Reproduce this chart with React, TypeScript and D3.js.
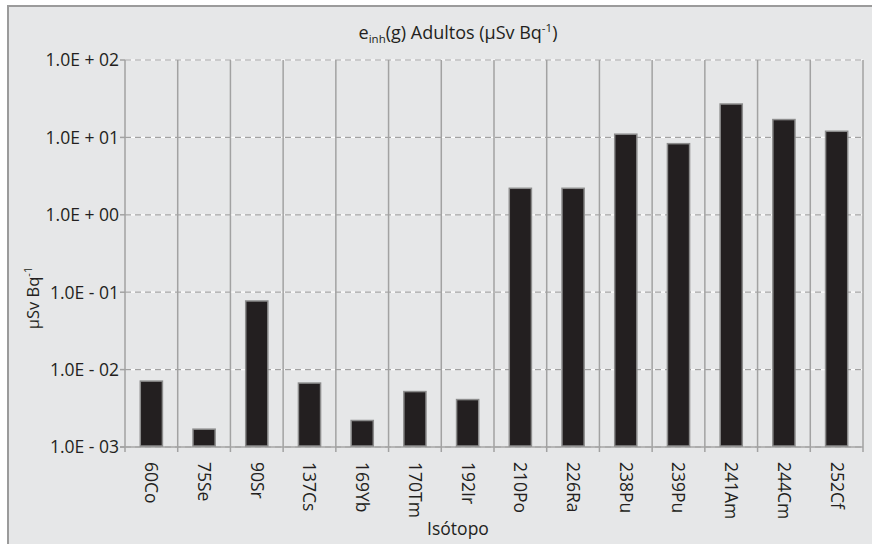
import React from "react";
import * as d3 from "d3";

// Inhalation dose coefficients, adults (µSv per Bq)
const isotopes = ["60Co", "75Se", "90Sr", "137Cs", "169Yb", "170Tm", "192Ir", "210Po", "226Ra", "238Pu", "239Pu", "241Am", "244Cm", "252Cf"];
const doseValues = [7.1e-3, 1.7e-3, 7.7e-2, 6.7e-3, 2.2e-3, 5.2e-3, 4.1e-3, 2.2, 2.2, 11, 8.3, 27, 17, 12];
const yTicks = [1e-3, 1e-2, 1e-1, 1e0, 1e1, 1e2];

const W = 872;
const H = 544;
const plot = { left: 125, right: 863, top: 60, bottom: 447 };
const FONT = "'Open Sans', 'Noto Sans', sans-serif";
const INK = "#231f20";
const GRID = "#a2a2a2";

function fmtExp(v: number): string {
  const e = Math.round(Math.log10(v));
  const sign = e < 0 ? "-" : "+";
  const mag = String(Math.abs(e)).padStart(2, "0");
  return `1.0E ${sign} ${mag}`;
}

export default function App() {
  const x = d3.scaleBand<string>().domain(isotopes).range([plot.left, plot.right]).padding(0);
  const y = d3.scaleLog().domain([1e-3, 1e2]).range([plot.bottom, plot.top]);
  const bw = x.bandwidth() * 0.42;
  const boundaries = d3.range(isotopes.length + 1).map((i) => plot.left + i * x.bandwidth());

  return (
    <svg width={W} height={H} style={{ position: "absolute", left: 0, top: 0 }} fontFamily={FONT}>
      <rect x={0} y={0} width={W} height={H} fill="#ffffff" />
      <rect x={8} y={6} width={W + 10} height={H + 10} fill="#e6e7e8" stroke="#9b9b9b" strokeWidth={2} />

      {/* horizontal decade gridlines */}
      {yTicks.map((t) => (
        <g key={`g${t}`}>
          <line x1={plot.left} x2={plot.right} y1={y(t)} y2={y(t)} stroke="#ffffff" strokeWidth={1.2} />
          <line x1={plot.left} x2={plot.right} y1={y(t)} y2={y(t)} stroke={GRID} strokeWidth={1.2} strokeDasharray="6 4" />
        </g>
      ))}

      {/* vertical category separators */}
      {boundaries.map((bx, i) => (
        <line key={`v${i}`} x1={bx} x2={bx} y1={plot.top} y2={plot.bottom + 5} stroke={GRID} strokeWidth={1.5} />
      ))}

      {/* axes */}
      <line x1={plot.left - 5} x2={plot.right} y1={plot.bottom} y2={plot.bottom} stroke={GRID} strokeWidth={1.5} />
      {yTicks.map((t) => (
        <line key={`t${t}`} x1={plot.left - 5} x2={plot.left} y1={y(t)} y2={y(t)} stroke={GRID} strokeWidth={1.5} />
      ))}

      {/* bars */}
      {isotopes.map((iso, i) => {
        const cx = (x(iso) as number) + x.bandwidth() / 2;
        const top = y(doseValues[i]);
        return (
          <rect key={iso} x={cx - bw / 2} y={top} width={bw} height={plot.bottom - top - 1} fill={INK} stroke="#8c8c8c" strokeWidth={1.5} />
        );
      })}

      {/* y tick labels */}
      {yTicks.map((t) => (
        <text key={`l${t}`} x={119} y={y(t)} dy="0.36em" textAnchor="end" fontSize={17.5} fill={INK}>
          {fmtExp(t)}
        </text>
      ))}

      {/* x tick labels */}
      {isotopes.map((iso) => {
        const cx = (x(iso) as number) + x.bandwidth() / 2;
        return (
          <text key={`x${iso}`} transform={`translate(${cx},${462}) rotate(90)`} dy="0.35em" fontSize={17.5} fill={INK}>
            {iso}
          </text>
        );
      })}

      {/* titles */}
      <text x={458} y={39} textAnchor="middle" fontSize={18} fill={INK}>
        e<tspan fontSize={11.5} dy={4}>inh</tspan>
        <tspan dy={-4}>(g) Adultos (µSv Bq</tspan>
        <tspan fontSize={11.5} dy={-7}>-1</tspan>
        <tspan dy={7}>)</tspan>
      </text>
      <text transform="translate(39,298) rotate(-90)" textAnchor="middle" fontSize={16.5} fill={INK}>
        µSv Bq<tspan fontSize={11} dy={-7}>-1</tspan>
      </text>
      <text x={458} y={535} textAnchor="middle" fontSize={17.5} fill={INK}>
        Isótopo
      </text>
    </svg>
  );
}
